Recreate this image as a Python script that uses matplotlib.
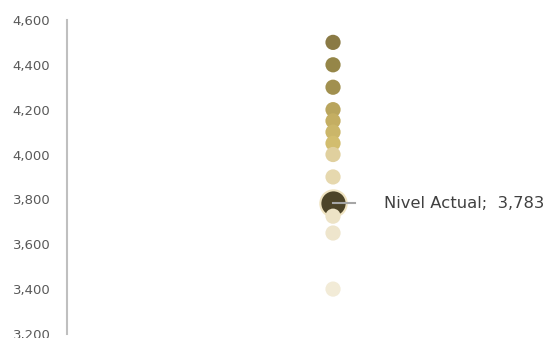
import matplotlib
matplotlib.use("Agg")
import matplotlib.pyplot as plt
from matplotlib.ticker import FuncFormatter

levels = [4500, 4400, 4300, 4200, 4150, 4100, 4050, 4000, 3900, 3725, 3650, 3400]
level_colors = ["#8A7A45", "#958648", "#A1904F", "#B9A55D", "#C4AE62", "#CBB669",
                "#D2BD6E", "#E0D09E", "#E6D8AE", "#EDE3C6", "#EEE5CC", "#F2EBD7"]
current_label = "Nivel Actual"
current_value = 3783
yticks = [3200, 3400, 3600, 3800, 4000, 4200, 4400, 4600]

fig = plt.figure(figsize=(5.45, 3.38), dpi=100)
ax = fig.add_axes([0.123, 0.012, 0.877, 0.929])
ax.set_xlim(0, 1)
ax.set_ylim(3200, 4600)

x0 = 0.5565
# current marker first (others drawn on top)
ax.scatter([x0], [current_value], s=360, color="#4D4428", edgecolors="#EFE3C0",
           linewidths=1.5, zorder=2)
ax.plot([x0, x0 + 0.046], [current_value, current_value], color="#A6A6A6", lw=1.5, zorder=3)
ax.scatter([x0] * len(levels), levels, s=120, c=level_colors, linewidths=0, zorder=4)
ax.text(x0 + 0.107, current_value, f"{current_label};  {current_value:,}",
        va="center", ha="left", fontsize=11.8, color="#404040", zorder=5)

ax.set_yticks(yticks)
ax.yaxis.set_major_formatter(FuncFormatter(lambda v, p: f"{int(v):,}"))
ax.tick_params(axis="y", length=0, pad=12, labelsize=9.5, labelcolor="#595959")
ax.set_xticks([])
for s in ["top", "right", "bottom"]:
    ax.spines[s].set_visible(False)
ax.spines["left"].set_color("#BFBFBF")
ax.spines["left"].set_linewidth(1.5)
for lbl in ax.get_yticklabels():
    lbl.set_clip_on(False)

fig.savefig("out.png", dpi=100)
